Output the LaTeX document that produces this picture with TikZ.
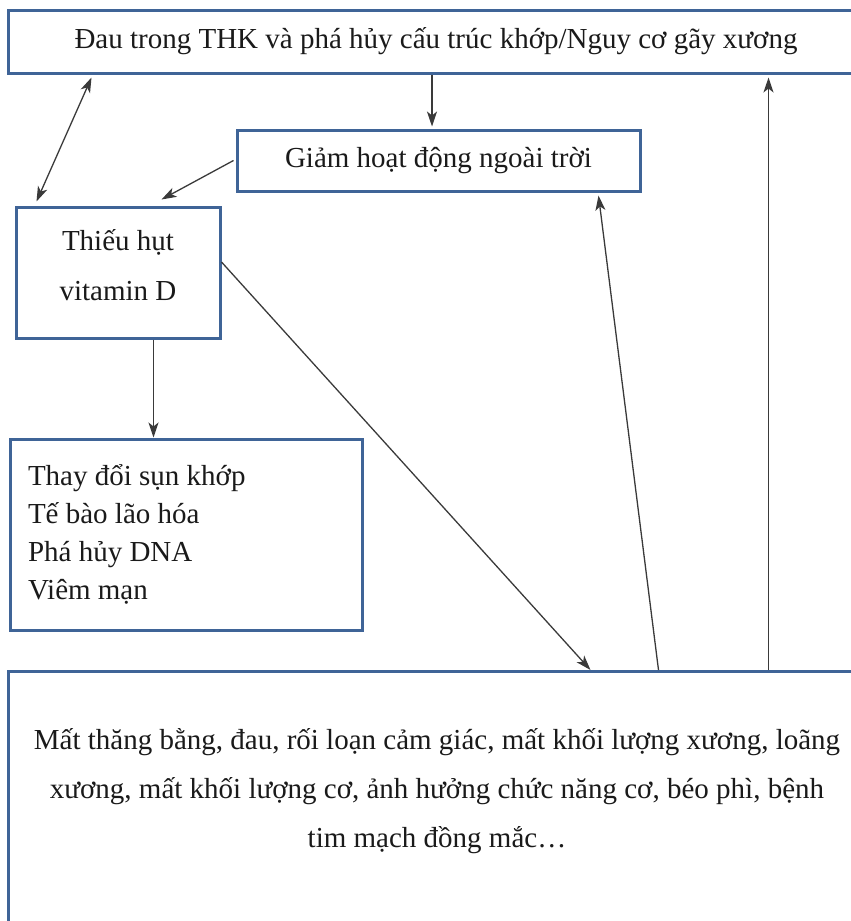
\documentclass[tikz,border=0pt]{standalone}
\usepackage{fontspec}
\setmainfont{Liberation Serif}
\definecolor{boxblue}{HTML}{3F6497}
\definecolor{arrgray}{HTML}{3A3A3A}
\definecolor{txtblack}{HTML}{1A1A1A}
\usetikzlibrary{arrows.meta, positioning}

\begin{document}
\begin{tikzpicture}[x=1pt, y=-1pt,
    >={Stealth[length=15pt, width=10pt, inset=4pt]},
    box/.style={rectangle, draw=boxblue, line width=3pt, fill=white,
                inner sep=0pt, text=txtblack, align=center,
                font=\fontsize{29}{38}\selectfont},
    link/.style={draw=arrgray, line width=1.3pt}
  ]
    \useasboundingbox (0,0) rectangle (851,921);
    \clip (0,0) rectangle (851,921);

    % Pain / joint damage (top)
    \node[box, minimum width=856pt, minimum height=63pt] (pain) at (436,41.5)
      {Đau trong THK và phá hủy cấu trúc khớp/Nguy cơ gãy xương};
    % Less outdoor activity
    \node[box, minimum width=403pt, minimum height=61pt] (outdoor) at (438.5,160.5)
      {Giảm hoạt động ngoài trời};
    % Vitamin D deficiency
    \node[box, minimum width=204pt, minimum height=131pt, text depth=16pt,
          font=\fontsize{29}{50}\selectfont] (vitd) at (118,272.5)
      {Thiếu hụt\\vitamin D};
    % Cellular changes
    \node[box, minimum width=352pt, minimum height=191pt, text width=316pt,
          align=flush left] (cartilage) at (186,534.5)
      {Thay đổi sụn khớp\\Tế bào lão hóa\\Phá hủy DNA\\Viêm mạn};
    % Consequences (bottom)
    \node[box, minimum width=858pt, minimum height=300pt, anchor=north]
      (effects) at (437,670) {};
    \node[text=txtblack, align=center, font=\fontsize{29}{49}\selectfont]
      (effectstxt) at (437,791)
      {Mất thăng bằng, đau, rối loạn cảm giác, mất khối lượng xương, loãng\\
       xương, mất khối lượng cơ, ảnh hưởng chức năng cơ, béo phì, bệnh\\
       tim mạch đồng mắc…};

    % Top connections
    \draw[<->, link] ([xshift=85pt, yshift=-3pt]pain.south west)
      -- ([xshift=22pt, yshift=4pt]vitd.north west);
    \draw[->, link] ([xshift=-4pt]pain.south)
      -- ([xshift=-6.5pt, yshift=2pt]outdoor.north);
    \draw[->, link] ([xshift=-2pt]outdoor.west)
      -- ([xshift=147pt, yshift=6pt]vitd.north west);

    % Vitamin D connections
    \draw[->, link] ([xshift=139pt]vitd.south west)
      -- ([xshift=145pt]cartilage.north west);
    \draw[->, link] ([yshift=10.5pt]vitd.east)
      -- ([xshift=584pt]effects.north west);

    % Feedback from consequences
    \draw[->, link] ([xshift=652pt]effects.north west)
      -- ([xshift=363pt, yshift=-3pt]outdoor.south west);
    \draw[->, link] ([xshift=762pt]effects.north west)
      -- ([xshift=762pt, yshift=-3pt]pain.south west);
  \end{tikzpicture}
\end{document}
